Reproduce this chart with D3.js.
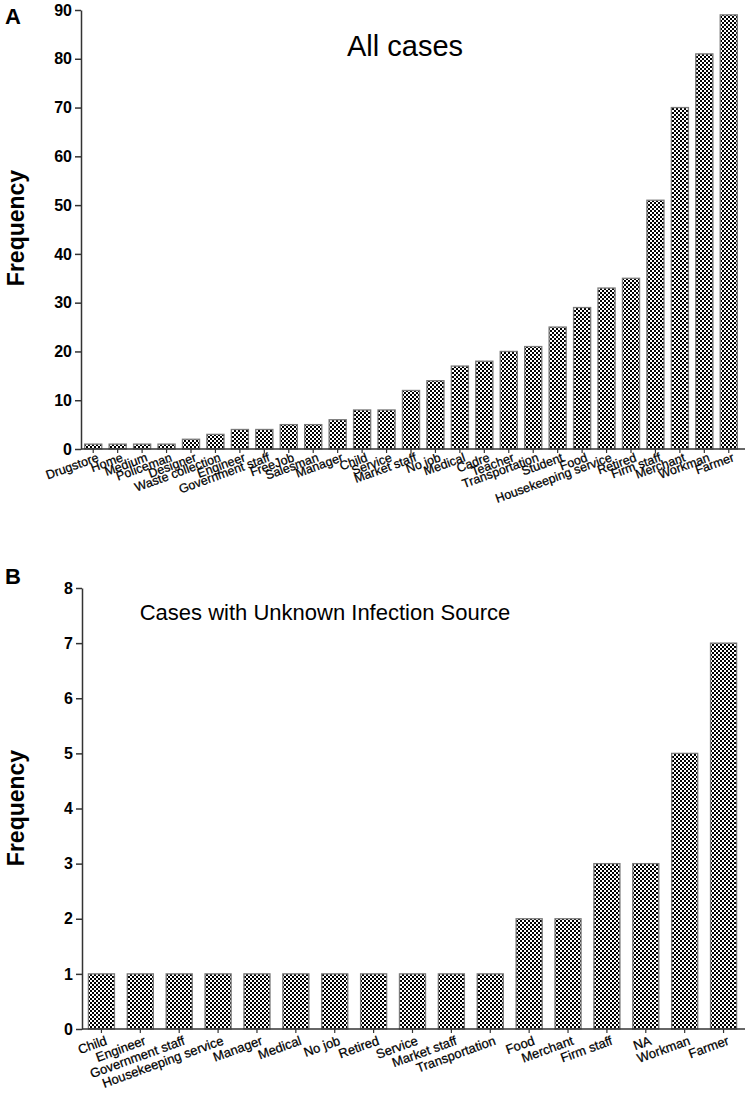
<!DOCTYPE html>
<html>
<head>
<meta charset="utf-8">
<script src="https://cdnjs.cloudflare.com/ajax/libs/d3/7.8.5/d3.min.js"></script>
<style>
  body { margin: 0; background: #fff; }
  svg { display: block; font-family: "Liberation Sans", Arial, sans-serif; }
</style>
</head>
<body>
<div id="chart"></div>
<script>
// Panel A: all cases
const jobsA = ['Drugstore', 'Home', 'Medium', 'Policeman', 'Designer', 'Waste collection',
	'Engineer', 'Government staff', 'FreeJob', 'Salesman', 'Manager', 'Child', 'Service',
	'Market staff', 'No job', 'Medical', 'Cadre', 'Teacher', 'Transportation', 'Student',
	'Food', 'Housekeeping service', 'Retired', 'Firm staff', 'Merchant', 'Workman', 'Farmer'];
const countsA = [1, 1, 1, 1, 2, 3, 4, 4, 5, 5, 6, 8, 8, 12, 14, 17, 18, 20, 21, 25, 29, 33, 35, 51, 70, 81, 89];
const ticksA = [0, 10, 20, 30, 40, 50, 60, 70, 80, 90];

// Panel B: cases with unknown infection source
const jobsB = ['Child', 'Engineer', 'Government staff', 'Housekeeping service', 'Manager',
	'Medical', 'No job', 'Retired', 'Service', 'Market staff', 'Transportation', 'Food',
	'Merchant', 'Firm staff', 'NA', 'Workman', 'Farmer'];
const countsB = [1, 1, 1, 1, 1, 1, 1, 1, 1, 1, 1, 2, 2, 3, 3, 5, 7];
const ticksB = [0, 1, 2, 3, 4, 5, 6, 7, 8];

const W = 748, H = 1093;
const AXIS = '#333';

const svg = d3.select('#chart').append('svg')
	.attr('width', W)
	.attr('height', H);

// checkerboard fill used by both panels
const pat = svg.append('defs').append('pattern')
	.attr('id', 'checks')
	.attr('patternUnits', 'userSpaceOnUse')
	.attr('width', 4)
	.attr('height', 4);
pat.append('rect').attr('width', 4).attr('height', 4).attr('fill', '#fff');
pat.append('rect').attr('width', 2).attr('height', 2).attr('fill', '#000');
pat.append('rect').attr('x', 2).attr('y', 2).attr('width', 2).attr('height', 2).attr('fill', '#000');

function drawPanel(opt) {
	const g = svg.append('g');

	const x = d3.scaleBand()
		.domain(opt.jobs)
		.range([opt.left, opt.right])
		.paddingInner(opt.pad)
		.paddingOuter(opt.pad / 2);

	const y = d3.scaleLinear()
		.domain([0, opt.max])
		.range([opt.bottom, opt.top]);

	// bars
	g.selectAll('rect.bar')
		.data(opt.counts)
		.enter()
		.append('rect')
		.attr('class', 'bar')
		.attr('x', (d, i) => x(opt.jobs[i]))
		.attr('y', d => y(d))
		.attr('width', x.bandwidth())
		.attr('height', d => opt.bottom - y(d))
		.attr('fill', 'url(#checks)')
		.attr('stroke', '#7a7a7a')
		.attr('stroke-width', 1.3);

	// y axis
	const yAxis = g.append('g')
		.attr('transform', `translate(${opt.left},0)`)
		.call(d3.axisLeft(y).tickValues(opt.ticks).tickSize(6).tickSizeOuter(0).tickPadding(3));
	yAxis.select('.domain').attr('stroke', AXIS).attr('stroke-width', 1.5);
	yAxis.selectAll('.tick line').attr('stroke', AXIS).attr('stroke-width', 1.5);
	yAxis.selectAll('.tick text')
		.attr('fill', '#000')
		.style('font-size', '16px')
		.style('font-weight', 'bold')
		.style('font-family', '"Liberation Sans", Arial, sans-serif');

	// x axis
	const xAxis = g.append('g')
		.attr('transform', `translate(0,${opt.bottom})`)
		.call(d3.axisBottom(x).tickSize(4).tickSizeOuter(0).tickFormat(''));
	xAxis.select('.domain').attr('stroke', AXIS).attr('stroke-width', 1.5)
		.attr('d', `M${opt.left},0H${opt.axisEnd}`);
	xAxis.selectAll('.tick line').attr('stroke', AXIS).attr('stroke-width', 1.2);

	// slanted category labels
	g.selectAll('text.cat')
		.data(opt.jobs)
		.enter()
		.append('text')
		.attr('class', 'cat')
		.attr('transform', d => `translate(${x(d) + x.bandwidth() / 2 + 3},${opt.bottom + opt.labelGap}) rotate(-20)`)
		.attr('dy', '0.75em')
		.attr('text-anchor', 'end')
		.style('font-size', opt.labelSize + 'px')
		.style('stroke', '#000')
		.style('stroke-width', 0.25)
		.text(d => d);

	// y title
	g.append('text')
		.attr('transform', `translate(${opt.yTitleX},${opt.yTitleY}) rotate(-90)`)
		.attr('text-anchor', 'middle')
		.attr('dy', '0.35em')
		.style('font-size', '23px')
		.style('font-weight', 'bold')
		.text('Frequency');

	// panel letter
	g.append('text')
		.attr('x', 5)
		.attr('y', opt.letterY)
		.style('font-size', '22px')
		.style('font-weight', 'bold')
		.text(opt.letter);

	// panel title
	g.append('text')
		.attr('x', opt.titleX)
		.attr('y', opt.titleY)
		.attr('text-anchor', 'middle')
		.style('font-size', opt.titleSize + 'px')
		.text(opt.title);
}

drawPanel({
	jobs: jobsA, counts: countsA, ticks: ticksA, max: 90,
	left: 81, right: 741, axisEnd: 745, top: 10, bottom: 449, pad: 0.3,
	labelSize: 12.5, labelGap: 3, yTitleX: 16, yTitleY: 228,
	letter: 'A', letterY: 24,
	title: 'All cases', titleX: 405, titleY: 56, titleSize: 29
});

drawPanel({
	jobs: jobsB, counts: countsB, ticks: ticksB, max: 8,
	left: 82, right: 743, axisEnd: 745, top: 588, bottom: 1029, pad: 0.33,
	labelSize: 13, labelGap: 6, yTitleX: 16, yTitleY: 808,
	letter: 'B', letterY: 584,
	title: 'Cases with Unknown Infection Source', titleX: 325, titleY: 620, titleSize: 22
});
</script>
</body>
</html>
